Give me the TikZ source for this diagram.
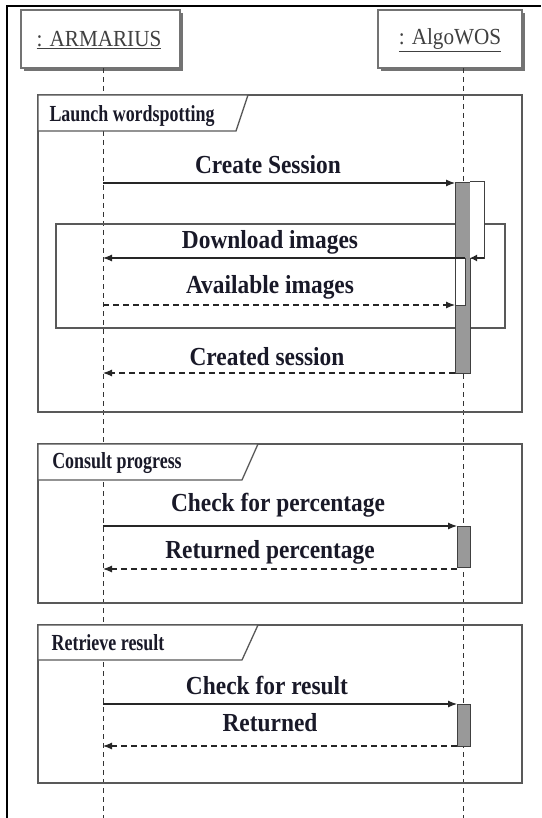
\documentclass[tikz,border=0pt]{standalone}
\usepackage{graphicx}
\usepackage{fontspec}
\setmainfont{Liberation Serif}
\usetikzlibrary{arrows.meta}
\definecolor{ink}{RGB}{25,25,40}
\newcommand{\msgtext}[1]{\scalebox{0.9}[1]{\fontsize{26}{28}\selectfont\bfseries #1}}
\newcommand{\tabtext}[1]{\scalebox{0.78}[1]{\fontsize{23}{25}\selectfont\bfseries #1}}
\newcommand{\actortext}[1]{\scalebox{0.92}[1]{\fontsize{23}{25}\selectfont\underline{#1}}}
\tikzset{
  actorbox/.style={draw=black!55, fill=white, line width=1.2pt},
  shadowbox/.style={fill=black!55, draw=none},
  fragframe/.style={draw=black!65, line width=1.3pt},
  tabbox/.style={draw=black!65, fill=white, line width=1.3pt},
  msgline/.style={draw=black!85, line width=1.1pt, -{Latex[length=9pt,width=7pt]}},
  retline/.style={msgline, dash pattern=on 6pt off 4pt},
  lifeline/.style={draw=black!80, line width=1pt, dash pattern=on 5pt off 4pt},
  actbar/.style={draw=black!75, fill=black!40, line width=1pt},
  lbl/.style={inner sep=0pt, text=ink},
}
\begin{document}
\begin{tikzpicture}[x=1pt,y=-1pt]
\useasboundingbox (0,0) rectangle (541,818);
% outer border (top and left)
\draw[black, line width=2.5pt] (7,818) -- (7,6) -- (541,6);
% actor boxes
\fill[shadowbox] (24,13) rectangle (183,71);
\draw[actorbox] (21,10) rectangle (180,68);
\node[lbl, text=black!75] (armarius) at (99,40) {\actortext{: ARMARIUS}};
\fill[shadowbox] (381,13) rectangle (525,71);
\draw[actorbox] (378,10) rectangle (522,68);
\node[lbl, text=black!75] (algowos) at (450,40) {\actortext{: AlgoWOS}};
% lifelines
\coordinate (A0) at (103,68);
\coordinate (A1) at (103,818);
\coordinate (B0) at (463,68);
\coordinate (B1) at (463,818);
\draw[lifeline] (A0) -- (A1);
\draw[lifeline] (B0) -- (B1);
% frame 1
\draw[fragframe] (38,95) rectangle (522,412);
\draw[tabbox] (38,95) -- (248,95) -- (236,131) -- (38,131) -- cycle;
\node[lbl] (t1) at (132,116) {\tabtext{Launch wordspotting}};
\draw[fragframe] (56,224) rectangle (505,328);
% frame 2
\draw[fragframe] (38,444) rectangle (522,603);
\draw[tabbox] (38,444) -- (258,444) -- (242,480) -- (38,480) -- cycle;
\node[lbl] (t2) at (117,463) {\tabtext{Consult progress}};
% frame 3
\draw[fragframe] (38,625) rectangle (522,783);
\draw[tabbox] (38,625) -- (258,625) -- (242,660) -- (38,660) -- cycle;
\node[lbl] (t3) at (108,643) {\tabtext{Retrieve result}};
% activation bars
\draw[actbar] (455,183) rectangle (470,373);
\draw[fill=white, draw=black!75, line width=1pt] (470,182) -- (484,182) -- (484,258) -- (470,258);
\draw[fill=white, draw=black!75, line width=1pt] (455,258) rectangle (465,305);
\draw[actbar] (457,526) rectangle (470,567);
\draw[actbar] (457,704) rectangle (470,746);
% message end points
\coordinate (m1a) at (103,183); \coordinate (m1b) at (455,183);
\coordinate (s1) at (484,258); \coordinate (s2) at (470,258);
\coordinate (m2a) at (465,258); \coordinate (m2b) at (103,258);
\coordinate (m3a) at (103,305); \coordinate (m3b) at (455,305);
\coordinate (m4a) at (455,373); \coordinate (m4b) at (103,373);
\coordinate (m5a) at (103,526); \coordinate (m5b) at (457,526);
\coordinate (m6a) at (457,569); \coordinate (m6b) at (103,569);
\coordinate (m7a) at (103,704); \coordinate (m7b) at (457,704);
\coordinate (m8a) at (457,746); \coordinate (m8b) at (103,746);
% messages
\draw[msgline] (m1a) -- (m1b);
\node[lbl] (l1) at (268,165) {\msgtext{Create Session}};
\draw[msgline, -{Latex[length=7pt,width=7pt]}] (s1) -- (s2);
\draw[msgline] (m2a) -- (m2b);
\node[lbl] (l2) at (270,242) {\msgtext{Download images}};
\draw[retline] (m3a) -- (m3b);
\node[lbl] (l3) at (270,287) {\msgtext{Available images}};
\draw[retline] (m4a) -- (m4b);
\node[lbl] (l4) at (267,357) {\msgtext{Created session}};
\draw[msgline] (m5a) -- (m5b);
\node[lbl] (l5) at (278,505) {\msgtext{Check for percentage}};
\draw[retline] (m6a) -- (m6b);
\node[lbl] (l6) at (270,552) {\msgtext{Returned percentage}};
\draw[msgline] (m7a) -- (m7b);
\node[lbl] (l7) at (267,685) {\msgtext{Check for result}};
\draw[retline] (m8a) -- (m8b);
\node[lbl] (l8) at (270,723) {\msgtext{Returned}};
\end{tikzpicture}
\end{document}
